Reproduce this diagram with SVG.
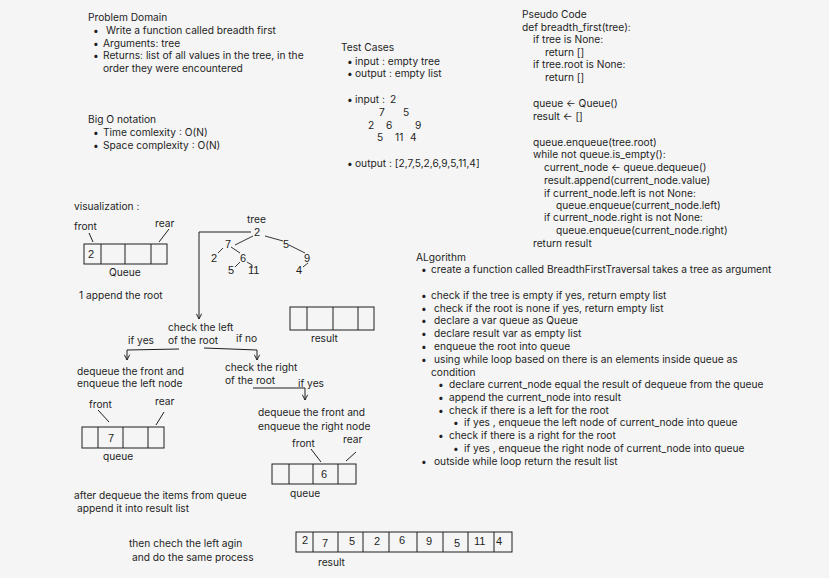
<svg xmlns="http://www.w3.org/2000/svg" width="829" height="578" viewBox="0 0 829 578">
<defs>
<style>
text{font-family:Inter,"Noto Sans","Liberation Sans",sans-serif;font-size:10.2px;fill:#1e1e1e}
.d{font-family:"Liberation Sans",Arial,sans-serif;font-size:11px}
.box{fill:none;stroke:#1e1e1e;stroke-width:1}
.ln{fill:none;stroke:#1e1e1e;stroke-width:1}
.edge{fill:none;stroke:#1e1e1e;stroke-width:0.9}
</style>
<marker id="arr" viewBox="0 0 8 8" refX="7" refY="4" markerWidth="7" markerHeight="7" markerUnits="userSpaceOnUse" orient="auto">
<path d="M1,1 L7,4 L1,7" fill="none" stroke="#1e1e1e" stroke-width="1.1"/>
</marker>
</defs>
<rect width="829" height="578" fill="#f5f5f5"/>

<g id="problem-domain">
<text x="88" y="21">Problem Domain</text>
<text x="93" y="34">•</text><text x="106" y="34">Write a function called breadth first</text>
<text x="93" y="47">•</text><text x="103" y="47">Arguments: tree</text>
<text x="93" y="59">•</text><text x="103" y="59">Returns: list of all values in the tree, in the</text>
<text x="103" y="72">order they were encountered</text>
</g>

<g id="big-o">
<text x="88" y="123">Big O notation</text>
<text x="93" y="136">•</text><text x="103" y="136">Time comlexity : O(N)</text>
<text x="93" y="149">•</text><text x="103" y="149">Space complexity : O(N)</text>
</g>

<g id="test-cases">
<text x="341" y="51">Test Cases</text>
<text x="347" y="65">•</text><text x="355" y="65">input : empty tree</text>
<text x="347" y="77">•</text><text x="355" y="77">output : empty list</text>
<text x="347" y="103">•</text><text x="355" y="103">input :</text>
<text x="390" y="103">2</text>
<text x="379" y="116">7</text><text x="403" y="116">5</text>
<text x="368" y="129">2</text><text x="386" y="129">6</text><text x="415" y="129">9</text>
<text x="377" y="141">5</text><text x="395" y="141">11</text><text x="410" y="141">4</text>
<text x="347" y="167">•</text><text x="355" y="167">output : [2,7,5,2,6,9,5,11,4]</text>
</g>

<g id="pseudo-code">
<text x="522" y="18">Pseudo Code</text>
<text x="522" y="31">def breadth_first(tree):</text>
<text x="533" y="43">if tree is None:</text>
<text x="545" y="56">return []</text>
<text x="533" y="68">if tree.root is None:</text>
<text x="545" y="81">return []</text>
<text x="533" y="107">queue ← Queue()</text>
<text x="533" y="120">result ← []</text>
<text x="533" y="146">queue.enqueue(tree.root)</text>
<text x="533" y="158">while not queue.is_empty():</text>
<text x="544" y="171">current_node ← queue.dequeue()</text>
<text x="544" y="184">result.append(current_node.value)</text>
<text x="544" y="197">if current_node.left is not None:</text>
<text x="556" y="209">queue.enqueue(current_node.left)</text>
<text x="544" y="221">if current_node.right is not None:</text>
<text x="556" y="234">queue.enqueue(current_node.right)</text>
<text x="533" y="247">return result</text>
</g>

<g id="algorithm">
<text x="416" y="261">ALgorithm</text>
<text x="421" y="273">•</text><text x="431" y="273">create a function called BreadthFirstTraversal takes a tree as argument</text>
<text x="421" y="299">•</text><text x="431" y="299">check if the tree is empty if yes, return empty list</text>
<text x="421" y="312">•</text><text x="434" y="312">check if the root is none if yes, return empty list</text>
<text x="421" y="324">•</text><text x="434" y="324">declare a var queue as Queue</text>
<text x="421" y="337">•</text><text x="434" y="337">declare result var as empty list</text>
<text x="421" y="350">•</text><text x="434" y="350">enqueue the root into queue</text>
<text x="421" y="363">•</text><text x="434" y="363">using while loop based on there is an elements inside queue as</text>
<text x="431" y="376">condition</text>
<text x="438" y="388">•</text><text x="449" y="388">declare current_node equal the result of dequeue from the queue</text>
<text x="438" y="401">•</text><text x="449" y="401">append the current_node into result</text>
<text x="438" y="414">•</text><text x="449" y="414">check if there is a left for the root</text>
<text x="453" y="426">•</text><text x="464" y="426">if yes , enqueue the left node of current_node into queue</text>
<text x="438" y="439">•</text><text x="449" y="439">check if there is a right for the root</text>
<text x="453" y="452">•</text><text x="464" y="452">if yes , enqueue the right node of current_node into queue</text>
<text x="421" y="465">•</text><text x="434" y="465">outside while loop return the result list</text>
</g>

<g id="visualization-label">
<text x="74" y="210">visualization :</text>
</g>

<g id="queue-initial">
<text x="74" y="230">front</text>
<text x="155" y="227">rear</text>
<path class="ln" d="M89,233 L93,242 M169,229 L159,242"/>
<rect class="box" x="84" y="244" width="83" height="20"/>
<path class="ln" d="M101,244 V264 M125,244 V264 M151,244 V264"/>
<text class="d" x="88" y="258">2</text>
<text x="109" y="276">Queue</text>
</g>

<g id="step-append-root">
<text x="79" y="299">1 append the root</text>
</g>

<g id="tree">
<text x="247" y="223">tree</text>
<text class="d" x="254" y="236">2</text>
<text class="d" x="225" y="248">7</text>
<text class="d" x="283" y="248">5</text>
<text class="d" x="211" y="262">2</text>
<text class="d" x="240" y="262">6</text>
<text class="d" x="304" y="262">9</text>
<text class="d" x="228" y="274">5</text>
<text class="d" x="248" y="274">11</text>
<text class="d" x="296" y="274">4</text>
</g>

<g id="result-empty">
<rect class="box" x="290" y="307" width="84" height="23"/>
<path class="ln" d="M307,307 V330 M333,307 V330 M358,307 V330"/>
<text x="311" y="342">result</text>
</g>

<g id="check-left">
<text x="168" y="331">check the left</text>
<text x="168" y="344">of the root</text>
<text x="128" y="344">if yes</text>
<text x="236" y="342">if no</text>
</g>

<g id="dequeue-left">
<text x="77" y="375">dequeue the front and</text>
<text x="77" y="387">enqueue the left node</text>
</g>

<g id="check-right">
<text x="225" y="371">check the right</text>
<text x="225" y="384">of the root</text>
<text x="298" y="387">if yes</text>
</g>

<g id="dequeue-right">
<text x="258" y="416">dequeue the front and</text>
<text x="258" y="430">enqueue the right node</text>
</g>

<g id="queue-left">
<text x="89" y="408">front</text>
<text x="155" y="405">rear</text>
<path class="ln" d="M98,410 L109,422 M164,412 L156,425"/>
<rect class="box" x="82" y="427" width="82" height="21"/>
<path class="ln" d="M98,427 V448 M123,427 V448 M148,427 V448"/>
<text class="d" x="108" y="442">7</text>
<text x="103" y="460">queue</text>
</g>

<g id="queue-right">
<text x="292" y="447">front</text>
<text x="343" y="443">rear</text>
<path class="ln" d="M311,449 L321,462 M356,452 L346,461"/>
<rect class="box" x="272" y="464" width="84" height="20"/>
<path class="ln" d="M289,464 V484 M313,464 V484 M338,464 V484"/>
<text class="d" x="321" y="478">6</text>
<text x="290" y="497">queue</text>
</g>

<g id="after-dequeue">
<text x="74" y="499">after dequeue the items from queue</text>
<text x="77" y="512">append it into result list</text>
</g>

<g id="then-check">
<text x="129" y="547">then chech the left agin</text>
<text x="132" y="561">and do the same process</text>
</g>

<g id="result-final">
<rect class="box" x="296" y="532" width="216" height="20"/>
<path class="ln" d="M313,532 V552 M338,532 V552 M363,532 V552 M389,532 V552 M417,532 V552 M443,532 V552 M468,532 V552 M494,532 V552"/>
<text class="d" x="302" y="544">2</text>
<text class="d" x="322" y="547">7</text>
<text class="d" x="349" y="545">5</text>
<text class="d" x="374" y="545">2</text>
<text class="d" x="399" y="544">6</text>
<text class="d" x="426" y="545">9</text>
<text class="d" x="454" y="547">5</text>
<text class="d" x="474" y="545">11</text>
<text class="d" x="496" y="545">4</text>
<text x="318" y="566">result</text>
</g>

<g id="connectors">
<path class="edge" d="M253,236 L235,245"/>
<path class="edge" d="M265,236 L283,241"/>
<path class="edge" d="M223,248 L218,253"/>
<path class="edge" d="M231,247 L240,253"/>
<path class="edge" d="M240,262 L235,267"/>
<path class="edge" d="M247,262 L252,265 L252,268"/>
<path class="edge" d="M289,245 L305,253"/>
<path class="edge" d="M308,263 L303,267"/>
<path class="ln" d="M251,232 H199 V319" marker-end="url(#arr)"/>
<path class="ln" d="M179,349 L127,350 V360" marker-end="url(#arr)"/>
<path class="ln" d="M204,348 L257,350 V360" marker-end="url(#arr)"/>
<path class="ln" d="M253,388 H305 V400" marker-end="url(#arr)"/>
</g>
</svg>
